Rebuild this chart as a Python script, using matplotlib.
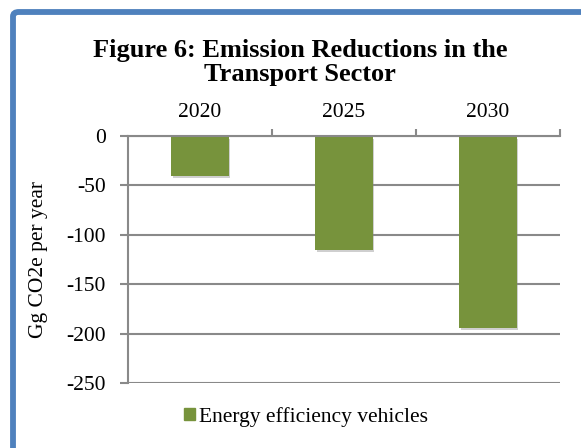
import matplotlib.pyplot as plt
import matplotlib.patheffects as pe
from matplotlib.patches import FancyBboxPatch, Patch
import numpy as np

plt.rcParams['font.family'] = ['Liberation Serif', 'DejaVu Serif']

years = ['2020', '2025', '2030']
reductions = [-40, -115, -194]
series_name = 'Energy efficiency vehicles'
yticks = [0, -50, -100, -150, -200, -250]
title_lines = ['Figure 6: Emission Reductions in the', 'Transport Sector']

green = '#77933C'
grid = '#898989'
fs = 15.5

W, H = 581, 448
fig = plt.figure(figsize=(W/100, H/100), dpi=100)

# blue frame, runs off the right and bottom edges
frame = FancyBboxPatch((13/W, -0.2), 1.2, 1.2 - 12/H,
                       boxstyle='round,pad=0,rounding_size=0.01',
                       transform=fig.transFigure, fill=False,
                       edgecolor='#4F81BD', linewidth=4.2)
fig.patches.append(frame)

ax = fig.add_axes([128/W, 65/H, 432/W, 247/H])
x = np.arange(len(years))
bars = ax.bar(x, reductions, width=0.4, color=green, zorder=3)
for b in bars:
    b.set_path_effects([pe.SimplePatchShadow(offset=(1, -2), shadow_rgbFace='#888888', alpha=0.4),
                        pe.Normal()])

ax.set_xlim(-0.5, 2.5)
ax.set_ylim(-250, 0)
ax.set_yticks(yticks)
ax.set_yticklabels([str(v) for v in yticks], fontsize=fs)
ax.yaxis.grid(True, color=grid, linewidth=1.5, zorder=0)
ax.tick_params(axis='y', length=6, width=1.5, color=grid, pad=10)

ax.xaxis.set_ticks_position('top')
ax.set_xticks(x)
ax.set_xticklabels(years, fontsize=fs)
ax.set_xticks(x + 0.5, minor=True)
ax.tick_params(axis='x', which='major', length=0, pad=10)
ax.tick_params(axis='x', which='minor', length=5, width=1.5, color=grid, direction='out')

for s in ['right', 'bottom']:
    ax.spines[s].set_visible(False)
for s in ['left', 'top']:
    ax.spines[s].set_color(grid)
    ax.spines[s].set_linewidth(1.5)
ax.spines['top'].set_zorder(4)

ax.set_ylabel('Gg CO2e per year', fontsize=fs, labelpad=13)

fig.text(300/W, 1 - 57/H, title_lines[0], ha='center', va='baseline',
         fontsize=19, fontweight='bold')
fig.text(300/W, 1 - 81/H, title_lines[1], ha='center', va='baseline',
         fontsize=19, fontweight='bold')

ax.legend([Patch(color=green)], [series_name], loc='center left',
          bbox_to_anchor=(184/W, 1 - 417/H), bbox_transform=fig.transFigure,
          frameon=False, fontsize=fs, handlelength=0.5, handleheight=0.5,
          handletextpad=0.2, borderpad=0, borderaxespad=0)

fig.savefig('out.png', dpi=100)
